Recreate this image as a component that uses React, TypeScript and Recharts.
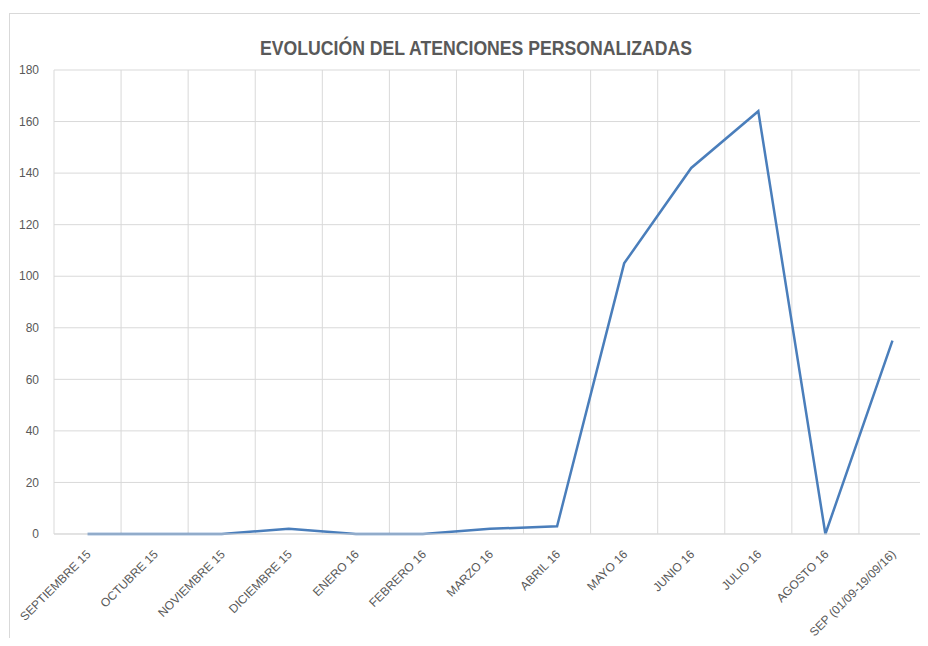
import { LineChart, Line, XAxis, YAxis, CartesianGrid } from "recharts"

const months = [
  "SEPTIEMBRE 15",
  "OCTUBRE 15",
  "NOVIEMBRE 15",
  "DICIEMBRE 15",
  "ENERO 16",
  "FEBRERO 16",
  "MARZO 16",
  "ABRIL 16",
  "MAYO 16",
  "JUNIO 16",
  "JULIO 16",
  "AGOSTO 16",
  "SEP (01/09-19/09/16)",
]
const atenciones = [0, 0, 0, 2, 0, 0, 2, 3, 105, 142, 164, 0, 75]
const yTicks = [0, 20, 40, 60, 80, 100, 120, 140, 160, 180]

const data = months.map((m, i) => ({ mes: m, valor: atenciones[i] }))

const FONT = "'Liberation Sans', Arial, sans-serif"
const GREY = "#595959"

const W = 920
const H = 630
const M = { top: 62, right: 2, left: 0, bottom: 0 }
const Y_W = 46
const X_H = 104
const plotW = W - M.left - M.right - Y_W
const band = plotW / months.length

function MonthTick(props: any) {
  const { x, y, payload } = props
  const tx = x + 4
  const ty = y + 13
  return (
    <text
      x={tx}
      y={ty}
      transform={`rotate(-45, ${tx}, ${ty})`}
      textAnchor="end"
      fill={GREY}
      fontSize={12}
      fontFamily={FONT}
    >
      {payload.value}
    </text>
  )
}

export default function App() {
  return (
    <div style={{ position: "relative", width: W, height: H }}>
      {/* marco exterior del gráfico */}
      <div
        style={{
          position: "absolute",
          left: 1,
          top: 5,
          width: W - 1,
          height: H - 5,
          borderTop: "1px solid #d9d9d9",
          borderLeft: "1px solid #d9d9d9",
          boxSizing: "border-box",
        }}
      />
      <svg
        width={W}
        height={60}
        style={{ position: "absolute", left: 0, top: 0 }}
      >
        <text
          x={468}
          y={47}
          textAnchor="middle"
          fontFamily={FONT}
          fontWeight="bold"
          fontSize={20}
          fill={GREY}
          textLength={432}
          lengthAdjust="spacingAndGlyphs"
        >
          EVOLUCIÓN DEL ATENCIONES PERSONALIZADAS
        </text>
      </svg>
      <LineChart
        width={W}
        height={H}
        data={data}
        margin={M}
        style={{ position: "absolute", left: 0, top: 0 }}
      >
        <CartesianGrid
          stroke="#d9d9d9"
          strokeWidth={1}
          verticalCoordinatesGenerator={({ offset }: any) =>
            Array.from({ length: months.length + 1 }, (_, i) => offset.left + i * (offset.width / months.length))
          }
        />
        <XAxis
          dataKey="mes"
          height={X_H}
          interval={0}
          padding={{ left: band / 2, right: band / 2 }}
          tickLine={false}
          axisLine={{ stroke: "#d9d9d9" }}
          tick={<MonthTick />}
        />
        <YAxis
          width={Y_W}
          domain={[0, 180]}
          ticks={yTicks}
          axisLine={false}
          tickLine={false}
          tickMargin={9}
          tick={{ fill: GREY, fontSize: 12, fontFamily: FONT }}
        />
        <Line
          type="linear"
          dataKey="valor"
          stroke="#4a7ebb"
          strokeWidth={2.5}
          dot={false}
          isAnimationActive={false}
        />
      </LineChart>
    </div>
  )
}
